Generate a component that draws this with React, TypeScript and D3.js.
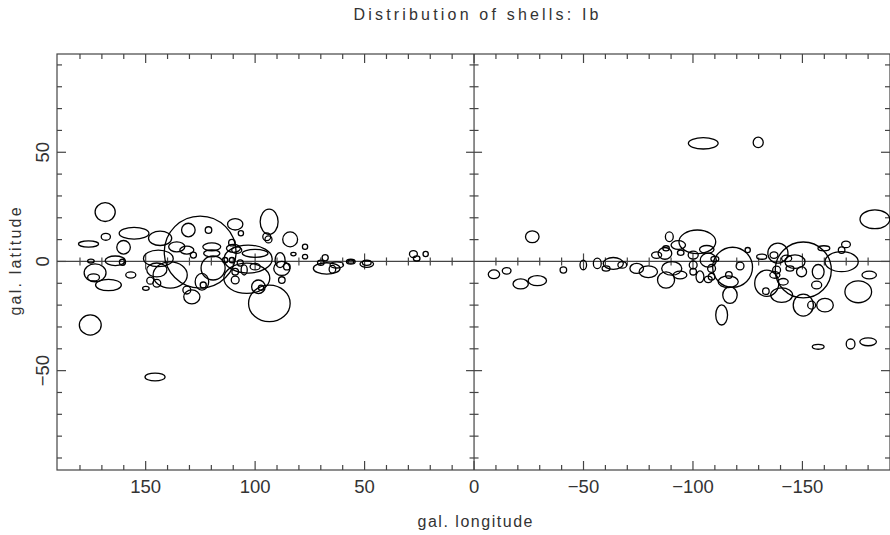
import React from 'react';
import * as d3 from 'd3';

const W = 890;
const H = 535;

// Shell centres (galactic longitude / latitude, degrees) and semi-axes (degrees)
const lon = [
  168.5, 168.2, 176.1, 155.3, 160.1, 175.0, 163.9, 160.6, 173.1, 173.8,
  167.0, 156.8, 149.9, 147.9, 144.9, 131.2, 125.1, 143.4, 130.5, 135.8,
  131.2, 128.2, 144.2, 144.9, 138.8, 93.6, 84.0, 77.2, 77.2, 82.5,
  109.1, 121.3, 106.5, 94.7, 93.9, 103.8, 93.5, 98.5, 97.3, 109.9,
  108.4, 110.6, 100.0, 88.6, 87.8, 87.8, 109.1, 109.1, 105.0, 100.0,
  85.5, 119.2, 124.3, 123.7, 128.9, 119.8, 119.8, 110.6, 113.7, 106.8,
  103.2, 68.0, 70.0, 67.3, 64.7, 62.7, 56.3, 56.3, 49.0, 49.0,
  27.7, 26.2, 22.1, 175.3, 145.7,
  -26.6, -9.1, -14.9, -21.3, -28.9, -40.8, -49.9, -56.3, -63.6, -60.3,
  -67.7, -74.3, -79.6, -87.7, -83.4, -87.7, -89.2, -93.3, -102.0, -106.3,
  -87.2, -94.4, -100.1, -90.3, -94.1, -100.1, -100.1, -103.2, -107.0, -108.5,
  -108.5, -107.0, -110.0, -118.1, -121.5, -125.0, -116.4, -116.1, -116.9, -113.1,
  -131.4, -133.7, -133.3, -183.1, -150.4, -167.9, -169.9, -167.9, -159.8, -180.5,
  -175.5, -157.2, -156.5, -160.3, -150.4, -154.2, -140.5, -149.6, -146.6, -137.0,
  -142.8, -144.3, -138.2, -141.2, -137.4, -138.8, -157.2, -172.0, -180.0, -104.7,
  -129.8,
];
const lat = [
  22.6, 11.3, 8.0, 12.9, 6.5, 0.2, 0.3, -0.4, -5.2, -7.3,
  -10.8, -6.2, -12.3, -8.8, -10.0, -13.1, 4.3, 10.6, 14.4, 6.7,
  5.2, 2.9, 1.4, -3.9, -6.2, 18.2, 10.1, 6.7, 2.2, 3.4,
  17.0, 14.4, 12.9, 11.3, 10.1, -7.7, -19.2, -11.6, -12.0, 6.0,
  5.2, 8.6, 3.7, 0.6, -3.2, -8.5, -4.7, -8.5, -3.9, -2.4,
  -2.4, -3.0, -9.3, -10.8, -16.2, 6.7, 3.7, 0.6, 0.6, -0.7,
  1.1, 1.7, -0.6, -3.2, -3.6, -1.6, -0.1, -0.1, -1.2, -0.6,
  3.4, 1.4, 3.4, -29.1, -52.9,
  11.3, -5.9, -4.3, -10.3, -8.8, -3.9, -1.6, -0.9, -0.9, -3.2,
  -1.6, -3.2, -4.7, -8.5, 2.9, 6.0, 11.3, 7.5, 9.0, 5.5,
  3.7, 4.0, 2.9, -3.2, -6.2, -1.6, -4.7, -7.0, 0.6, -3.2,
  -7.0, -8.2, 1.1, -2.7, -2.1, 5.2, -6.2, -9.3, -15.4, -24.5,
  2.2, -10.0, -13.6, 19.3, -3.9, -0.1, 7.8, 5.2, 6.0, -6.2,
  -13.9, -4.7, -10.8, -20.0, -20.0, -20.0, -15.4, -4.7, -0.1, 2.9,
  1.4, -3.2, -3.9, -9.3, -6.2, 3.8, -39.1, -37.8, -36.8, 54.1,
  54.5,
];
const semiLon = [
  4.6, 2.1, 4.6, 6.8, 3.1, 1.5, 4.6, 1.4, 5.0, 2.7,
  5.9, 2.3, 1.5, 1.6, 1.8, 1.8, 16.4, 5.3, 3.1, 3.7,
  3.2, 1.4, 6.8, 4.6, 7.8, 4.1, 3.4, 1.2, 1.2, 1.2,
  3.5, 1.5, 1.2, 1.8, 1.6, 10.5, 9.5, 3.1, 1.2, 3.2,
  2.3, 1.5, 5.9, 2.3, 3.7, 1.5, 1.5, 1.8, 1.4, 2.3,
  1.5, 5.5, 3.1, 1.4, 3.7, 4.1, 3.7, 1.2, 1.2, 1.4,
  11.0, 1.4, 1.5, 6.1, 1.5, 3.1, 2.0, 1.4, 3.1, 2.0,
  1.8, 1.5, 1.2, 5.0, 4.6,
  3.1, 2.6, 2.0, 3.5, 4.2, 1.5, 1.5, 1.8, 4.6, 1.8,
  2.0, 3.1, 4.2, 3.9, 2.3, 1.5, 1.8, 3.3, 8.4, 3.3,
  3.1, 1.5, 2.3, 4.6, 3.1, 1.8, 1.5, 1.8, 3.7, 1.8,
  1.5, 1.8, 1.8, 9.1, 1.8, 1.2, 1.5, 4.6, 3.3, 2.7,
  2.3, 5.5, 1.5, 6.8, 12.8, 7.6, 2.0, 1.5, 2.7, 3.3,
  6.1, 2.7, 2.3, 3.8, 4.6, 1.8, 5.0, 2.3, 4.6, 1.8,
  2.3, 1.8, 1.8, 2.3, 2.3, 4.6, 2.7, 2.0, 3.8, 6.8,
  2.3,
];
const semiLat = [
  4.3, 1.6, 1.4, 2.7, 3.1, 0.9, 2.2, 1.4, 4.1, 1.6,
  2.6, 1.4, 0.9, 1.6, 1.8, 1.8, 16.5, 3.3, 3.1, 2.3,
  1.8, 1.4, 3.8, 3.2, 6.0, 5.8, 3.4, 1.2, 1.0, 0.8,
  2.6, 1.5, 1.2, 1.8, 1.6, 6.9, 8.4, 3.1, 1.2, 1.8,
  1.5, 1.5, 1.8, 3.4, 3.2, 1.5, 1.5, 1.8, 2.3, 1.5,
  1.5, 5.5, 3.8, 1.4, 3.2, 1.8, 1.6, 1.2, 1.2, 1.4,
  6.4, 1.4, 1.2, 2.6, 1.8, 1.4, 1.1, 0.7, 1.5, 1.2,
  1.6, 1.2, 1.2, 4.6, 1.8,
  2.7, 2.0, 1.5, 2.3, 2.3, 1.4, 2.2, 2.4, 2.7, 1.2,
  1.5, 2.3, 2.7, 3.7, 1.5, 1.2, 2.2, 2.0, 5.4, 1.8,
  2.7, 1.2, 1.8, 3.1, 1.8, 1.8, 1.5, 2.7, 3.2, 1.8,
  1.5, 1.5, 1.2, 9.2, 1.8, 1.2, 1.5, 2.7, 3.8, 4.6,
  1.2, 6.0, 1.5, 4.3, 12.8, 4.6, 1.5, 1.5, 1.2, 1.8,
  5.0, 3.3, 1.8, 3.1, 5.0, 1.8, 3.3, 2.3, 3.1, 1.5,
  1.5, 1.2, 1.8, 1.5, 1.5, 4.6, 1.1, 2.3, 1.8, 2.6,
  2.4,
];

const xMinorTicks = d3.range(-180, 181, 10);
const yMinorTicks = d3.range(-90, 91, 10);
const xTickLabels = [150, 100, 50, 0, -50, -100, -150];
const yTickLabels = [50, 0, -50];

const fmt = (v: number) => (v < 0 ? '\u2212' + Math.abs(v) : String(v));

export default function App() {
  const x = d3.scaleLinear().domain([190.5, -190]).range([57, 890]);
  const y = d3.scaleLinear().domain([-95.5, 95]).range([470, 54]);
  const left = x(190.5), right = x(-190), top = y(95), bottom = y(-95.5);
  const x0 = x(0), y0 = y(0);
  const axisColor = '#444';
  const textColor = '#333';
  const font = "'Liberation Sans', Arial, sans-serif";
  const isMajor = (v: number) => v % 50 === 0;

  const ticks: JSX.Element[] = [];
  xMinorTicks.forEach((v, i) => {
    const px = x(v);
    const len = isMajor(v) ? 9 : 5;
    ticks.push(<line key={'xb' + i} x1={px} x2={px} y1={bottom} y2={bottom - len} />);
    ticks.push(<line key={'xt' + i} x1={px} x2={px} y1={top} y2={top + len} />);
    if (v !== 0) {
      const h = isMajor(v) ? 8 : 4;
      ticks.push(<line key={'xz' + i} x1={px} x2={px} y1={y0 - h} y2={y0 + h} />);
    }
  });
  yMinorTicks.forEach((v, i) => {
    const py = y(v);
    const len = isMajor(v) ? 9 : 5;
    ticks.push(<line key={'yl' + i} x1={left} x2={left + len} y1={py} y2={py} />);
    ticks.push(<line key={'yr' + i} x1={right} x2={right - len} y1={py} y2={py} />);
    if (v !== 0) {
      const h = isMajor(v) ? 8 : 4.5;
      ticks.push(<line key={'yz' + i} x1={x0 - h} x2={x0 + h} y1={py} y2={py} />);
    }
  });

  return (
    <svg width={W} height={H} style={{ position: 'absolute', left: 0, top: 0, background: '#fff' }}>
      <defs>
        <clipPath id="plotClip">
          <rect x={left} y={top} width={right - left} height={bottom - top} />
        </clipPath>
      </defs>
      <rect x={0} y={0} width={W} height={H} fill="#fff" />
      <g stroke={axisColor} strokeWidth={1.2} fill="none">
        <rect x={left} y={top} width={right - left} height={bottom - top} />
        <line x1={left} x2={right} y1={y0} y2={y0} />
        <line x1={x0} x2={x0} y1={top} y2={bottom} />
        {ticks}
      </g>
      <g clipPath="url(#plotClip)" stroke="#000" strokeWidth={1.3} fill="none">
        {lon.map((l, i) => (
          <ellipse
            key={i}
            cx={x(l)}
            cy={y(lat[i])}
            rx={Math.abs(x(semiLon[i]) - x(0))}
            ry={Math.abs(y(semiLat[i]) - y(0))}
          />
        ))}
      </g>
      <g fill={textColor} fontFamily={font}>
        {xTickLabels.map((v) => (
          <text key={'xl' + v} x={x(v)} y={493} fontSize={18.5} textAnchor="middle">
            {fmt(v)}
          </text>
        ))}
        {yTickLabels.map((v) => (
          <text
            key={'yl' + v}
            transform={`translate(49,${y(v)}) rotate(-90)`}
            fontSize={18.5}
            textAnchor="middle"
          >
            {fmt(v)}
          </text>
        ))}
        <text x={476} y={20} fontSize={16} textAnchor="middle" textLength={245}>
          Distribution of shells: Ib
        </text>
        <text x={475} y={527} fontSize={16} textAnchor="middle" textLength={115}>
          gal. longitude
        </text>
        <text transform={`translate(21,${y0}) rotate(-90)`} fontSize={16} textAnchor="middle" textLength={108}>
          gal. latitude
        </text>
      </g>
    </svg>
  );
}
